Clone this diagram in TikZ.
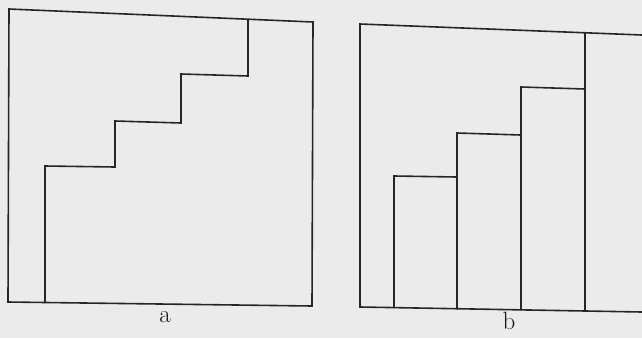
\documentclass[tikz,border=0pt]{standalone}
\begin{document}
\begin{tikzpicture}[x=1pt,y=-1pt,
  ln/.style={draw=black!85,line width=1.6pt,line join=miter},
  lbl/.style={font=\fontsize{25}{25}\selectfont,text=black!90,inner sep=0pt}]
\fill[gray!16] (0,0) rectangle (642,338);
\useasboundingbox (0,0) rectangle (642,338);
% diagram a
\draw[ln] (9,9) -- (313,22) -- (312,306) -- (8,302) -- cycle;
\draw[ln] (45,303) -- (45,166) -- (115,167) -- (115,121) -- (181,123) -- (181,74) -- (248,76) -- (248,20);
\node[lbl] (la) at (165,317) {a};
% diagram b
\draw[ln] (642,35) -- (360,24) -- (360,307) -- (642,312);
\draw[ln] (585,33) -- (585,311);
\draw[ln] (394,308) -- (394,176) -- (457,177) -- (457,309);
\draw[ln] (457,309) -- (457,133) -- (521,135) -- (521,310);
\draw[ln] (521,310) -- (521,87) -- (585,89);
\node[lbl] (lb) at (509,321) {b};
\end{tikzpicture}
\end{document}
